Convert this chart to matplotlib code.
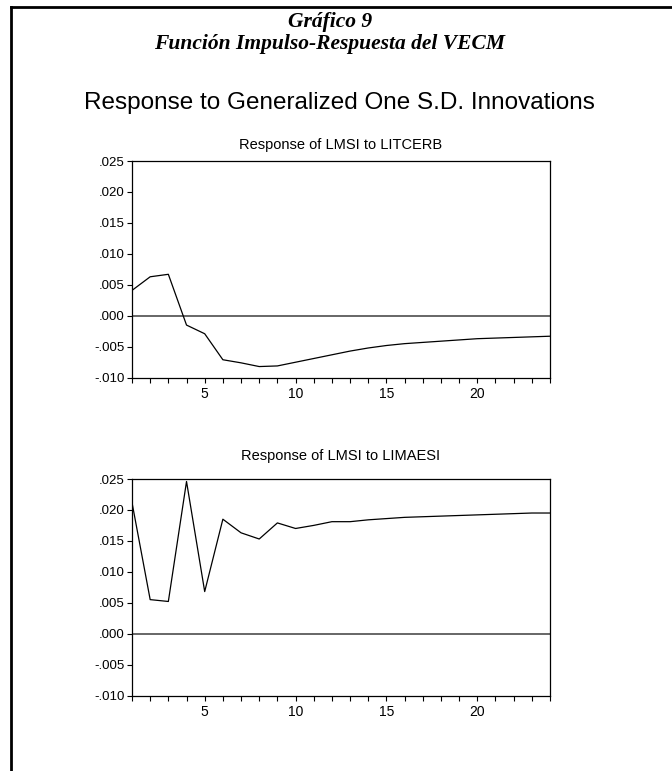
import matplotlib
matplotlib.use("Agg")
import matplotlib.pyplot as plt
from matplotlib.lines import Line2D
from matplotlib.ticker import FuncFormatter, MultipleLocator, FixedLocator

plt.rcParams['font.family'] = ['Liberation Sans', 'DejaVu Sans']

# periodos del impulso-respuesta
periods = list(range(1, 25))

# respuesta de LMSI a LITCERB
resp_litcerb = [0.0041, 0.0063, 0.0067, -0.0015, -0.0029, -0.0071, -0.0076, -0.0082,
                -0.0081, -0.0075, -0.0069, -0.0063, -0.0057, -0.0052, -0.0048, -0.0045,
                -0.0043, -0.0041, -0.0039, -0.0037, -0.0036, -0.0035, -0.0034, -0.0033]

# respuesta de LMSI a LIMAESI
resp_limaesi = [0.0212, 0.0055, 0.0052, 0.0246, 0.0068, 0.0185, 0.0163, 0.0153,
                0.0179, 0.0170, 0.0175, 0.0181, 0.0181, 0.0184, 0.0186, 0.0188,
                0.0189, 0.0190, 0.0191, 0.0192, 0.0193, 0.0194, 0.0195, 0.0195]

yticks = [-0.010, -0.005, 0.000, 0.005, 0.010, 0.015, 0.020, 0.025]
xlabels = [5, 10, 15, 20]

W, H = 672, 771
fig = plt.figure(figsize=(W / 100, H / 100), dpi=100)


def fy(px):
    return 1 - px / H


# marco del documento (solo izquierda y arriba)
fig.add_artist(Line2D([10.5 / W, 10.5 / W], [0, fy(6.5)], color='black', lw=2.0))
fig.add_artist(Line2D([10.5 / W, 1], [fy(6.5), fy(6.5)], color='black', lw=2.0))

fig.text(330 / W, fy(22), 'Gráfico 9', family='Liberation Serif', style='italic',
         weight='bold', fontsize=15.5, ha='center', va='center')
fig.text(330 / W, fy(44), 'Función Impulso-Respuesta del VECM', family='Liberation Serif',
         style='italic', weight='bold', fontsize=15.5, ha='center', va='center')
fig.text(339 / W, fy(103), 'Response to Generalized One S.D. Innovations',
         fontsize=17.5, ha='center', va='center')


def fmt(v, pos):
    s = f"{v:.3f}".replace("0.", ".")
    if s == "-.000":
        s = ".000"
    return s


def draw_panel(rect, values, title, title_y):
    ax = fig.add_axes(rect)
    ax.plot(periods, values, color='black', lw=0.9)
    ax.axhline(0, color='#5a5a5a', lw=1.3, zorder=1)
    ax.set_xlim(1, 24)
    ax.set_ylim(-0.010, 0.025)
    ax.set_yticks(yticks)
    ax.yaxis.set_major_formatter(FuncFormatter(fmt))
    ax.xaxis.set_major_locator(FixedLocator(xlabels))
    ax.xaxis.set_minor_locator(MultipleLocator(1))
    ax.tick_params(axis='both', which='both', direction='out', length=3.5, width=0.8,
                   pad=2, colors='black')
    ax.tick_params(axis='y', labelsize=9.5)
    ax.tick_params(axis='x', labelsize=10, pad=3)
    for sp in ax.spines.values():
        sp.set_linewidth(0.9)
        sp.set_color('black')
    fig.text(rect[0] + rect[2] / 2, fy(title_y), title, fontsize=10.5, ha='center', va='center')
    return ax


left = 132 / W
width = (550 - 132) / W
draw_panel([left, fy(377.7), width, (377.7 - 161) / H], resp_litcerb,
           'Response of LMSI to LITCERB', 145)
draw_panel([left, fy(695.5), width, (695.5 - 479) / H], resp_limaesi,
           'Response of LMSI to LIMAESI', 456)

fig.savefig('out.png', dpi=100)
